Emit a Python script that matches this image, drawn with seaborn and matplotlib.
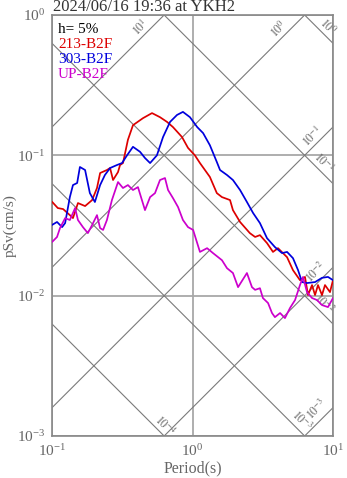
import numpy as np
import pandas as pd
import matplotlib
matplotlib.use("Agg")
import matplotlib.pyplot as plt
import seaborn as sns
from matplotlib.ticker import LogLocator, LogFormatterMathtext, NullFormatter

# ---------------- data ----------------
title = "2024/06/16 19:36 at YKH2"
damping_label = "h= 5%"
series_names = ["213-B2F", "303-B2F", "UP-B2F"]
series_colors = ["#dd0000", "#0000dd", "#cc00cc"]

period_213 = [0.100, 0.110, 0.120, 0.134, 0.141, 0.153, 0.172, 0.193, 0.209, 0.220,
              0.246, 0.259, 0.272, 0.295, 0.305, 0.320, 0.347, 0.377, 0.444, 0.515,
              0.587, 0.659, 0.726, 0.842, 0.929, 1.04, 1.13, 1.33, 1.49, 1.62,
              1.85, 1.94, 2.18, 2.56, 2.79, 3.02, 3.39, 3.74, 4.06, 4.71,
              5.19, 5.82, 6.32, 6.64, 7.09, 7.45, 7.82, 8.35, 8.77, 9.52, 10.0]
psv_213 = [0.0467, 0.0421, 0.0414, 0.0375, 0.0357, 0.0457, 0.0435, 0.0480, 0.0585, 0.0748,
           0.0786, 0.0812, 0.0667, 0.0760, 0.0853, 0.0881, 0.129, 0.164, 0.184, 0.200,
           0.187, 0.173, 0.159, 0.135, 0.113, 0.100, 0.0881, 0.0701, 0.0538, 0.0504,
           0.0480, 0.0407, 0.0335, 0.0279, 0.0262, 0.0270, 0.0237, 0.0205, 0.0218, 0.0188,
           0.0152, 0.0129, 0.0136, 0.0101, 0.0119, 0.0101, 0.0119, 0.0101, 0.0119, 0.0106, 0.0129]

period_303 = [0.100, 0.1086, 0.118, 0.124, 0.134, 0.141, 0.151, 0.158, 0.172, 0.186,
              0.202, 0.220, 0.238, 0.259, 0.290, 0.315, 0.342, 0.377, 0.423, 0.459,
              0.499, 0.558, 0.617, 0.692, 0.776, 0.855, 0.959, 1.08, 1.19, 1.33,
              1.49, 1.57, 1.76, 1.94, 2.18, 2.44, 2.70, 3.02, 3.39, 3.86,
              4.34, 4.71, 5.19, 5.64, 6.02, 6.53, 7.45, 8.35, 9.21, 10.0]
psv_303 = [0.0319, 0.0335, 0.0308, 0.0329, 0.0504, 0.0614, 0.0635, 0.0826, 0.0786, 0.0538,
           0.0465, 0.0614, 0.0724, 0.0812, 0.0853, 0.0881, 0.100, 0.115, 0.106, 0.0957,
           0.0881, 0.100, 0.135, 0.173, 0.194, 0.204, 0.187, 0.159, 0.144, 0.118,
           0.0896, 0.0786, 0.0724, 0.0667, 0.0566, 0.0465, 0.0388, 0.0329, 0.0257, 0.0222,
           0.0201, 0.0205, 0.0185, 0.0152, 0.0125, 0.0123, 0.0125, 0.0134, 0.0136, 0.0129]

period_up = [0.100, 0.1086, 0.114, 0.124, 0.134, 0.146, 0.153, 0.166, 0.180, 0.193,
             0.209, 0.220, 0.231, 0.246, 0.267, 0.295, 0.320, 0.347, 0.377, 0.409,
             0.459, 0.499, 0.541, 0.587, 0.637, 0.670, 0.726, 0.789, 0.855, 0.929,
             1.01, 1.13, 1.27, 1.40, 1.62, 1.76, 1.94, 2.11, 2.44, 2.65,
             2.79, 3.02, 3.17, 3.45, 3.68, 3.86, 4.20, 4.55, 4.94, 5.37,
             5.82, 6.12, 6.53, 7.09, 7.69, 8.35, 9.21, 10.0]
psv_up = [0.0241, 0.0262, 0.0303, 0.0357, 0.0346, 0.0421, 0.0346, 0.0308, 0.0279, 0.0319,
          0.0375, 0.0303, 0.0294, 0.0346, 0.0480, 0.0645, 0.0585, 0.0614, 0.0566, 0.0594,
          0.0407, 0.0504, 0.0538, 0.0667, 0.0689, 0.0566, 0.0496, 0.0428, 0.0346, 0.0308,
          0.0294, 0.0205, 0.0218, 0.0201, 0.0179, 0.0157, 0.0145, 0.0115, 0.0145, 0.0115,
          0.0110, 0.0113, 0.00962, 0.00886, 0.00752, 0.00703, 0.00752, 0.00692, 0.00816, 0.00931,
          0.0119, 0.0136, 0.0106, 0.00962, 0.00931, 0.00857, 0.00829, 0.00962]

# tripartite reference levels
disp_levels = [1e-4, 1e-3, 1e-2, 1e-1, 1e0]     # cm
disp_labels = ["$10^{-4}$", "$10^{-3}$", "$10^{-2}$", "$10^{-1}$", "$10^{0}$"]
acc_levels = [1e-3, 1e-2, 1e-1, 1e0, 1e1]       # cm/s^2
acc_labels = ["$10^{-3}$", "$10^{-2}$", "$10^{-1}$", "$10^{0}$", "$10^{1}$"]

# ---------------- style ----------------
sns.set_style("white")
plt.rcParams["font.family"] = ["Liberation Serif", "DejaVu Serif"]
plt.rcParams["mathtext.fontset"] = "stix"

grey_text = "#666666"
grey_line = "#7a7a7a"

fig = plt.figure(figsize=(3.47, 4.78), dpi=100)
ax = fig.add_axes([52 / 347, 42 / 478, 281 / 347, 421 / 478])

xmin, xmax, ymin, ymax = 0.1, 10.0, 1e-3, 1.0
ax.set_xscale("log")
ax.set_yscale("log")
ax.set_xlim(xmin, xmax)
ax.set_ylim(ymin, ymax)

# grid
ax.grid(True, which="major", color="#a8a8a8", lw=1.3, zorder=0)

# diagonal lines
Tl = np.array([xmin, xmax])
for d in disp_levels:
    ax.plot(Tl, 2 * np.pi * d / Tl, color=grey_line, lw=0.8, zorder=1)
for a in acc_levels:
    ax.plot(Tl, a * Tl / (2 * np.pi), color=grey_line, lw=0.8, zorder=1)

# diagonal labels (placed near the right-hand end of each line)
def back(T_end, px):
    return T_end * 10 ** (-px / 140.5)

disp_back = [5, 9, 15, 15, 11]
disp_off = [4.0, 4.5, 4.0, 4.0, 4.0]
acc_back = [9, 11, 15, 20, 18]
acc_off = [5.0, 4.0, 4.0, 4.0, 4.0]
for d, lab, bpx, o in zip(disp_levels, disp_labels, disp_back, disp_off):
    T_end = min(xmax, 2 * np.pi * d / ymin)
    Tlab = back(T_end, bpx)
    ax.annotate(lab, xy=(Tlab, 2 * np.pi * d / Tlab), xytext=(o, o),
                textcoords="offset points", rotation=-45, ha="center", va="center",
                fontsize=8.5, color=grey_text, zorder=2, rotation_mode="anchor")
for a, lab, bpx, o in zip(acc_levels, acc_labels, acc_back, acc_off):
    T_end = min(xmax, 2 * np.pi * ymax / a)
    Tlab = back(T_end, bpx)
    ax.annotate(lab, xy=(Tlab, a * Tlab / (2 * np.pi)), xytext=(-o, o),
                textcoords="offset points", rotation=45, ha="center", va="center",
                fontsize=8.5, color=grey_text, zorder=2, rotation_mode="anchor")

# spectra
frames = []
for name, T, v in zip(series_names, [period_213, period_303, period_up],
                      [psv_213, psv_303, psv_up]):
    frames.append(pd.DataFrame({"Period": T, "pSv": v, "series": name}))
df = pd.concat(frames, ignore_index=True)
sns.lineplot(data=df, x="Period", y="pSv", hue="series", hue_order=series_names,
             palette=dict(zip(series_names, series_colors)), estimator=None,
             sort=False, lw=1.25, legend=False, ax=ax, zorder=3)

# legend-like texts
ax.text(6 / 281, (436 - 33) / 421, damping_label, transform=ax.transAxes,
        fontsize=11, color="black", va="baseline", ha="left")
for i, (name, col) in enumerate(zip(series_names, series_colors)):
    ax.text(6 / 281, (436 - 48 - 15 * i) / 421, name, transform=ax.transAxes,
            fontsize=11, color=col, va="baseline", ha="left")

# axes styling
for s in ax.spines.values():
    s.set_color("#888888")
    s.set_linewidth(1.2)
ax.xaxis.set_major_locator(LogLocator(base=10))
ax.yaxis.set_major_locator(LogLocator(base=10))
ax.xaxis.set_minor_locator(LogLocator(base=10, subs=np.arange(2, 10)))
ax.yaxis.set_minor_locator(LogLocator(base=10, subs=np.arange(2, 10)))
ax.xaxis.set_major_formatter(LogFormatterMathtext())
ax.yaxis.set_major_formatter(LogFormatterMathtext())
ax.xaxis.set_minor_formatter(NullFormatter())
ax.yaxis.set_minor_formatter(NullFormatter())
ax.tick_params(which="both", direction="in", color="#666666", labelcolor=grey_text,
               labelsize=11, width=0.8, top=False, right=False)
ax.tick_params(which="major", length=0, pad=5)
ax.tick_params(which="minor", length=3.5)

ax.set_xlabel("Period(s)", fontsize=11.5, color=grey_text, labelpad=1)
ax.set_ylabel("pSv(cm/s)", fontsize=11, color=grey_text, labelpad=0)

fig.text(53 / 347, 1 - 11 / 478, title, fontsize=12, color="#333333",
         va="baseline", ha="left")

fig.savefig("out.png", dpi=100)
